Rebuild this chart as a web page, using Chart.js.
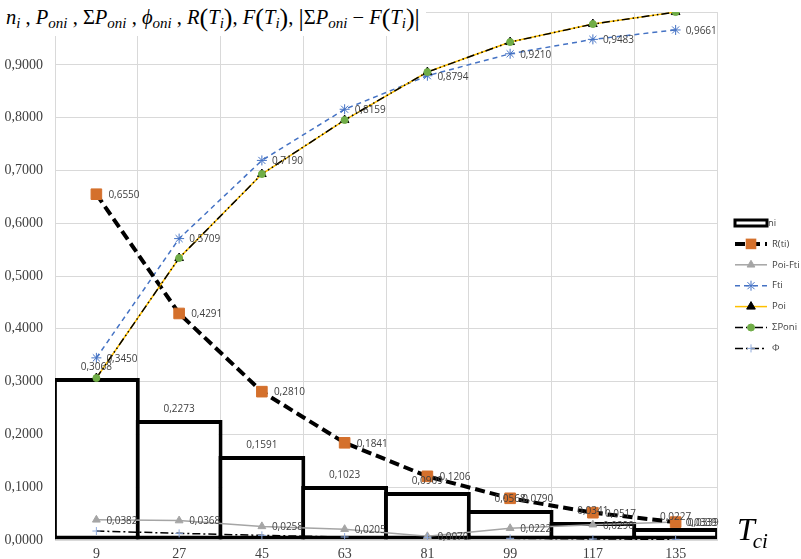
<!DOCTYPE html>
<html>
<head>
<meta charset="utf-8">
<script src="https://cdn.jsdelivr.net/npm/chart.js@4/dist/chart.umd.min.js"></script>
<style>
  body { margin: 0; background: #fff; }
  #wrap { position: relative; width: 801px; height: 559px; overflow: hidden; }
  #title {
    position: absolute; left: 0; top: 0; width: 420px; height: 36px;
    background: #fff; font-family: "Liberation Serif", serif; font-size: 20.5px;
    color: #000; white-space: nowrap; padding-left: 6px; line-height: 34px;
  }
  #title sub { font-size: 15px; font-style: italic; vertical-align: -4px; }
  #title .big { font-size: 26px; font-style: normal; vertical-align: -2px; }
  #tci {
    position: absolute; left: 737px; top: 511px;
    font-family: "Liberation Serif", serif; font-size: 32px; font-style: italic; white-space: nowrap;
  }
  #tci sub { font-size: 21px; vertical-align: -8px; margin-left: -2px; }
</style>
</head>
<body>
<div id="wrap">
  <canvas id="myChart" width="801" height="559"></canvas>
  <div id="title"><i>n</i><sub>i</sub> , <i>P</i><sub>oni</sub> , Σ<i>P</i><sub>oni</sub> , <i>ϕ</i><sub>oni</sub> , <i>R</i><span class="big">(</span><i>T</i><sub>i</sub><span class="big">)</span>, <i>F</i><span class="big">(</span><i>T</i><sub>i</sub><span class="big">)</span>, <span class="big">|</span>Σ<i>P</i><sub>oni</sub> − <i>F</i><span class="big">(</span><i>T</i><sub>i</sub><span class="big">)|</span></div>
  <div id="tci">T<sub>ci</sub></div>
</div>
<script>
let categories = ["9", "27", "45", "63", "81", "99", "117", "135"];
let niValues = [0.3068, 0.2273, 0.1591, 0.1023, 0.0909, 0.0568, 0.0341, 0.0227];
let rValues = [0.655, 0.4291, 0.281, 0.1841, 0.1206, 0.079, 0.0517, 0.0339];
let poiFtiValues = [0.0382, 0.0368, 0.0258, 0.0205, 0.007, 0.0222, 0.029, 0.0339];
let ftiValues = [0.345, 0.5709, 0.719, 0.8159, 0.8794, 0.921, 0.9483, 0.9661];
let poiValues = [0.3068, 0.5341, 0.6932, 0.7955, 0.8864, 0.9432, 0.9773, 1.0];
let sumPoniValues = [0.3068, 0.5341, 0.6932, 0.7955, 0.8864, 0.9432, 0.9773, 1.0];
let phiValues = [0.017, 0.0126, 0.0088, 0.0057, 0.005, 0.0032, 0.0019, 0.0013];
let legendNames = ["ni", "R(ti)", "Poi-Fti", "Fti", "Poi", "ΣPoni", "Φ"];

function formatValue(v) {
  return v.toFixed(4).replace(".", ",");
}

// labels next to points / above bars
const valueLabels = {
  id: "valueLabels",
  afterDatasetsDraw(chart) {
    const ctx = chart.ctx;
    ctx.save();
    ctx.font = "10px 'Open Sans'";
    ctx.fillStyle = "#404040";
    ctx.textBaseline = "middle";
    chart.data.datasets.forEach((ds, i) => {
      if (!ds.labelMode) return;
      let meta = chart.getDatasetMeta(i);
      meta.data.forEach((el, j) => {
        let text = formatValue(ds.data[j]);
        if (ds.labelMode == "top") {
          ctx.textAlign = "center";
          ctx.fillText(text, el.x, el.y - 11);
        } else {
          ctx.textAlign = "left";
          ctx.fillText(text, el.x + ds.labelOffset, el.y + 1);
        }
      });
    });
    ctx.restore();
  },
};

function drawMarker(ctx, ds, x, y) {
  let style = ds.pointStyle;
  let r = ds.pointRadius;
  ctx.save();
  ctx.setLineDash([]);
  ctx.fillStyle = ds.pointBackgroundColor;
  ctx.strokeStyle = ds.pointBorderColor;
  ctx.lineWidth = ds.pointBorderWidth;
  ctx.beginPath();
  if (style == "rect") {
    let s = r * Math.SQRT1_2;
    ctx.rect(x - s, y - s, 2 * s, 2 * s);
    ctx.fill();
  } else if (style == "triangle") {
    ctx.moveTo(x, y - r);
    ctx.lineTo(x + r * 0.866, y + r / 2);
    ctx.lineTo(x - r * 0.866, y + r / 2);
    ctx.closePath();
    ctx.fill();
    ctx.stroke();
  } else if (style == "circle") {
    ctx.arc(x, y, r, 0, Math.PI * 2);
    ctx.fill();
    ctx.stroke();
  } else if (style == "star") {
    for (let a = 0; a < 4; a++) {
      let ang = (a * Math.PI) / 4;
      ctx.moveTo(x - Math.cos(ang) * r, y - Math.sin(ang) * r);
      ctx.lineTo(x + Math.cos(ang) * r, y + Math.sin(ang) * r);
    }
    ctx.stroke();
  } else if (style == "cross") {
    ctx.moveTo(x - r, y);
    ctx.lineTo(x + r, y);
    ctx.moveTo(x, y - r);
    ctx.lineTo(x, y + r);
    ctx.stroke();
  }
  ctx.restore();
}

// legend on the right side
const sideLegend = {
  id: "sideLegend",
  afterDraw(chart) {
    const ctx = chart.ctx;
    let x0 = 735;
    let x1 = 767;
    ctx.save();
    chart.data.datasets.forEach((ds, i) => {
      let y = 223 + i * 20.9;
      if (ds.type == "bar") {
        ctx.fillStyle = "#fff";
        ctx.strokeStyle = "#000";
        ctx.lineWidth = 3;
        ctx.fillRect(x0, y - 3, x1 - x0, 6);
        ctx.strokeRect(x0, y - 3, x1 - x0, 6);
      } else {
        ctx.beginPath();
        ctx.strokeStyle = ds.borderColor;
        ctx.lineWidth = ds.borderWidth;
        ctx.setLineDash(ds.borderDash || []);
        ctx.moveTo(x0, y);
        ctx.lineTo(x1, y);
        ctx.stroke();
        drawMarker(ctx, ds, (x0 + x1) / 2, y);
      }
      ctx.fillStyle = "#404040";
      ctx.font = "9.5px 'Open Sans'";
      ctx.textAlign = "left";
      ctx.textBaseline = "middle";
      ctx.fillText(legendNames[i], i == 0 ? 768 : 772, y);
    });
    ctx.restore();
  },
};

function lineSet(label, data, opts) {
  return Object.assign(
    {
      type: "line",
      label: label,
      data: data,
      fill: false,
      tension: 0,
      borderWidth: 1.5,
      pointBorderWidth: 1,
    },
    opts
  );
}

function init() {
  const ctx = document.getElementById("myChart");
  new Chart(ctx, {
    type: "bar",
    data: {
      labels: categories,
      datasets: [
        {
          type: "bar",
          label: "ni",
          data: niValues,
          backgroundColor: "#fff",
          borderColor: "#000",
          borderWidth: 4,
          borderSkipped: false,
          barPercentage: 1.05,
          categoryPercentage: 1,
          order: 10,
          labelMode: "top",
        },
        lineSet("R(ti)", rValues, {
          borderColor: "#000",
          borderWidth: 4,
          borderDash: [10, 5],
          pointStyle: "rect",
          pointRadius: 7.5,
          pointBackgroundColor: "#D4702C",
          pointBorderColor: "#D4702C",
          order: 4,
          labelMode: "right",
          labelOffset: 12,
        }),
        lineSet("Poi-Fti", poiFtiValues, {
          borderColor: "#A5A5A5",
          pointStyle: "triangle",
          pointRadius: 4.5,
          pointBackgroundColor: "#A5A5A5",
          pointBorderColor: "#A5A5A5",
          order: 6,
          labelMode: "right",
          labelOffset: 10,
        }),
        lineSet("Fti", ftiValues, {
          borderColor: "#4472C4",
          borderDash: [5, 4],
          pointStyle: "star",
          pointRadius: 5,
          pointBackgroundColor: "#4472C4",
          pointBorderColor: "#4472C4",
          order: 5,
          labelMode: "right",
          labelOffset: 10,
        }),
        lineSet("Poi", poiValues, {
          borderColor: "#FFC000",
          pointStyle: "triangle",
          pointRadius: 5,
          pointBackgroundColor: "#000",
          pointBorderColor: "#000",
          order: 3,
        }),
        lineSet("ΣPoni", sumPoniValues, {
          borderColor: "#000",
          borderDash: [8, 3, 1.5, 3, 1.5, 3],
          pointStyle: "circle",
          pointRadius: 3.5,
          pointBackgroundColor: "#70AD47",
          pointBorderColor: "#70AD47",
          order: 2,
        }),
        lineSet("Φ", phiValues, {
          borderColor: "#000",
          borderDash: [8, 3, 2, 3],
          pointStyle: "cross",
          pointRadius: 4,
          pointBackgroundColor: "#8FAADC",
          pointBorderColor: "#8FAADC",
          order: 1,
        }),
      ],
    },
    options: {
      responsive: false,
      animation: false,
      layout: { padding: { top: 12, right: 84, left: 0, bottom: 0 } },
      plugins: {
        legend: { display: false },
        tooltip: { enabled: false },
      },
      scales: {
        x: {
          offset: true,
          grid: { color: "#D9D9D9", drawTicks: false, offset: true },
          border: { color: "#D9D9D9" },
          ticks: {
            color: "#404040",
            padding: 6,
            font: { family: "'Liberation Serif'", size: 14 },
          },
          afterFit(scale) {
            scale.height = 19;
          },
        },
        y: {
          min: 0,
          max: 1,
          grid: { color: "#D9D9D9", drawTicks: false },
          border: { color: "#D9D9D9" },
          ticks: {
            stepSize: 0.1,
            color: "#404040",
            padding: 12,
            font: { family: "'Liberation Serif'", size: 14, lineHeight: 0.01 },
            callback: (value) => formatValue(value),
          },
          afterFit(scale) {
            scale.width = 55;
          },
        },
      },
    },
    plugins: [valueLabels, sideLegend],
  });
}

init();
</script>
</body>
</html>
